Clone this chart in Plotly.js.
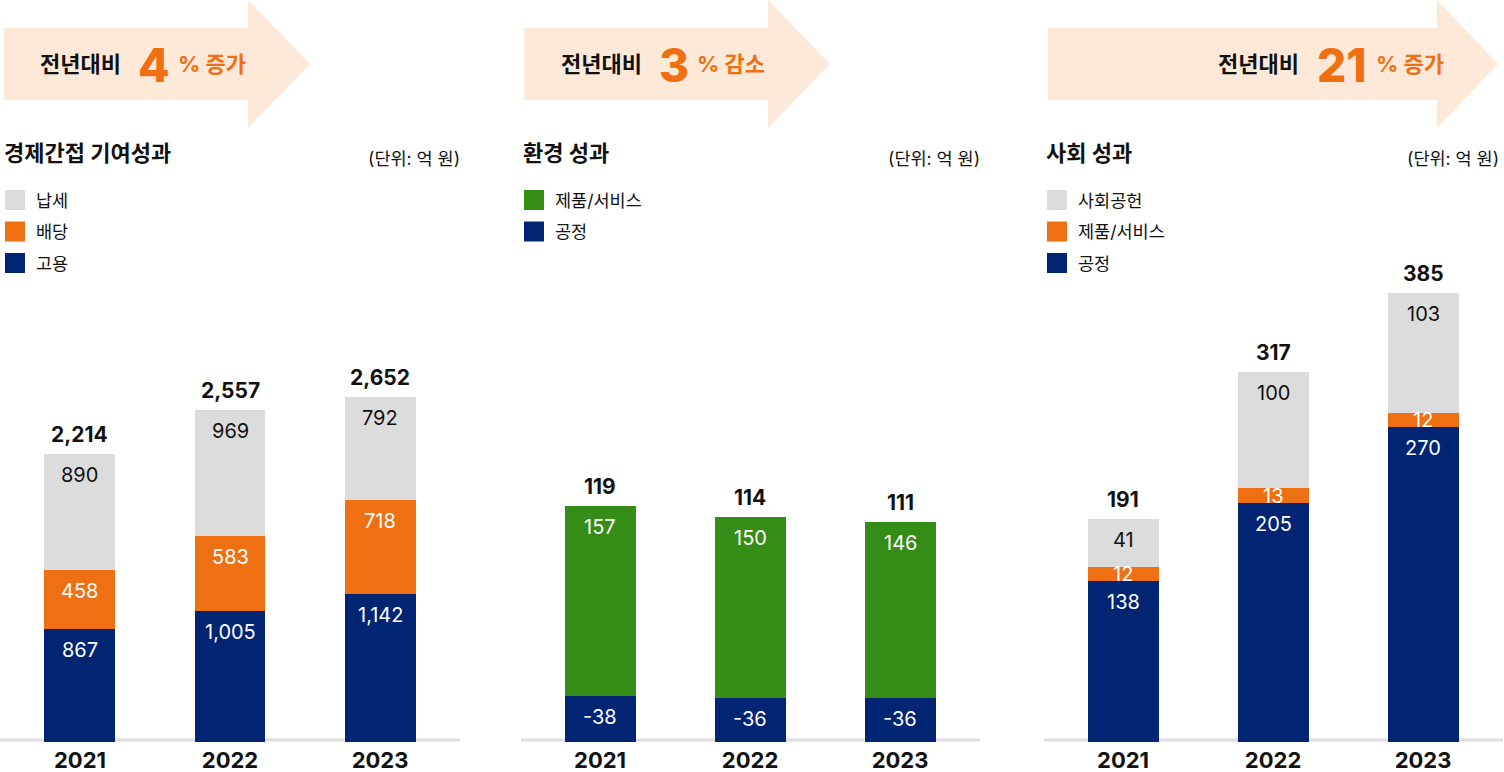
<!DOCTYPE html>
<html><head><meta charset="utf-8">
<script src="https://cdn.plot.ly/plotly-3.0.1.min.js"></script>
<style>html,body{margin:0;padding:0;background:#fff}#chart{width:1504px;height:772px}</style>
</head><body><div id="chart"></div>
<script>
// ---------- DATA ----------
const years = ['2021', '2022', '2023'];

// 경제간접 기여성과
const econEmployment = [867, 1005, 1142];   // 고용
const econDividend = [458, 583, 718];       // 배당
const econTax = [890, 969, 792];            // 납세
const econTotals = [2214, 2557, 2652];

// 환경 성과
const envProcess = [-38, -36, -36];         // 공정
const envProduct = [157, 150, 146];         // 제품/서비스
const envTotals = [119, 114, 111];

// 사회 성과
const socProcess = [138, 205, 270];         // 공정
const socProduct = [12, 13, 12];            // 제품/서비스
const socContrib = [41, 100, 103];          // 사회공헌
const socTotals = [191, 317, 385];

const changeValues = ['4', '3', '21'];
const changeWords = ['증가', '감소', '증가'];
const panelTitles = ['경제간접 기여성과', '환경 성과', '사회 성과'];
const unitLabel = '(단위: 억 원)';

// ---------- STYLE ----------
const W = 1504, H = 772;
const NAVY = '#012572', ORANGE = '#EE7012', GRAY = '#DCDCDC', GREEN = '#358C17';
const ARROW = '#FEE9D9', INK = '#111111';
const FONT = "Inter, 'Noto Sans CJK KR', sans-serif";
const px = x => x / W;
const py = y => 1 - y / H;

const yDom = [py(742), py(290)];
const plotH = (yDom[1] - yDom[0]) * H;
const panels = [
  {xd: [0, 460], xr: [-0.533, 2.533], ymax: 3477,
   series: [{name: '고용', v: econEmployment, c: NAVY, t: '#fff'},
            {name: '배당', v: econDividend, c: ORANGE, t: '#fff'},
            {name: '납세', v: econTax, c: GRAY, t: INK}],
   totals: econTotals, left: 5, right: 462, arrow: [4, 248, 310], tx: [80, 154, 212]},
  {xd: [521, 980], xr: [-0.527, 2.533], ymax: 374,
   series: [{name: '공정', v: envProcess, c: NAVY, t: '#fff'},
            {name: '제품/서비스', v: envProduct, c: GREEN, t: '#fff'}],
   totals: envTotals, left: 524, right: 982, arrow: [524, 768, 830], tx: [601, 674, 731]},
  {xd: [1044, 1503], xr: [-0.527, 2.533], ymax: 388,
   series: [{name: '공정', v: socProcess, c: NAVY, t: '#fff'},
            {name: '제품/서비스', v: socProduct, c: ORANGE, t: '#fff'},
            {name: '사회공헌', v: socContrib, c: GRAY, t: INK}],
   totals: socTotals, left: 1047, right: 1501, arrow: [1048, 1437, 1498], tx: [1258, 1342, 1410]}
];

const fmt = n => n.toLocaleString('en-US');
const traces = [], annotations = [], shapes = [];
const layout = {
  width: W, height: H, margin: {l: 0, r: 0, t: 0, b: 0},
  paper_bgcolor: '#fff', plot_bgcolor: 'rgba(0,0,0,0)',
  barmode: 'stack', showlegend: false, font: {family: FONT, color: INK},
  annotations, shapes
};

panels.forEach((p, pi) => {
  const sfx = pi === 0 ? '' : String(pi + 1);
  const xa = 'x' + sfx, ya = 'y' + sfx;
  layout['xaxis' + sfx] = {
    domain: [px(p.xd[0]), px(p.xd[1])], range: p.xr, type: 'category', anchor: ya,
    showgrid: false, zeroline: false, showline: false, ticks: '',
    tickfont: {family: FONT, size: 22, weight: 700, color: INK}, ticklabelstandoff: 3, fixedrange: true
  };
  layout['yaxis' + sfx] = {
    domain: yDom, range: [0, p.ymax], anchor: xa, showgrid: false, zeroline: false,
    showline: false, showticklabels: false, ticks: '', fixedrange: true
  };
  // baseline
  shapes.push({type: 'line', xref: 'paper', yref: 'paper', layer: 'below',
    x0: px(p.xd[0]), x1: px(p.xd[1]), y0: py(740), y1: py(740), line: {color: '#DEDEDE', width: 3}});

  const k = plotH / p.ymax;           // px per unit
  const base = [0, 0, 0];
  p.series.forEach(s => {
    const h = s.v.map(Math.abs);
    traces.push({type: 'bar', x: years, y: h, xaxis: xa, yaxis: ya, width: 0.473,
      marker: {color: s.c, line: {width: 0}}, hoverinfo: 'skip', name: s.name});
    h.forEach((hv, i) => {
      const top = base[i] + hv;
      annotations.push({xref: xa, yref: ya, x: i, y: top - Math.min(hv / 2, 21 / k),
        xanchor: 'center', yanchor: 'middle', text: fmt(s.v[i]), showarrow: false,
        font: {family: FONT, size: 20, color: s.t}});
      base[i] = top;
    });
  });
  p.totals.forEach((t, i) => {
    annotations.push({xref: xa, yref: ya, x: i, y: base[i], xanchor: 'center', yanchor: 'bottom', yshift: 5,
      text: fmt(t), showarrow: false, font: {family: FONT, size: 21, weight: 700, color: INK}});
  });

  // arrow banner
  const [a0, ab, at] = p.arrow;
  shapes.push({type: 'path', xref: 'paper', yref: 'paper', layer: 'below', fillcolor: ARROW, line: {width: 0},
    path: `M${px(a0)},${py(28)} L${px(ab)},${py(28)} L${px(ab)},${py(0)} L${px(at)},${py(64)} L${px(ab)},${py(128)} L${px(ab)},${py(100)} L${px(a0)},${py(100)} Z`});
  annotations.push({xref: 'paper', yref: 'paper', x: px(p.tx[0]), y: py(64), xanchor: 'center', yanchor: 'middle',
    text: '전년대비', showarrow: false, font: {family: FONT, size: 22, weight: 700, color: INK}});
  annotations.push({xref: 'paper', yref: 'paper', x: px(p.tx[1]), y: py(65), xanchor: 'center', yanchor: 'middle',
    text: changeValues[pi], showarrow: false, font: {family: FONT, size: 46, weight: 800, color: ORANGE}});
  annotations.push({xref: 'paper', yref: 'paper', x: px(p.tx[2]), y: py(64), xanchor: 'center', yanchor: 'middle',
    text: '% ' + changeWords[pi], showarrow: false,
    font: {family: FONT, size: 22, weight: 700, color: ORANGE}});

  // title + unit
  annotations.push({xref: 'paper', yref: 'paper', x: px(p.left - 3), y: py(153), xanchor: 'left', yanchor: 'middle',
    text: panelTitles[pi], showarrow: false, font: {family: FONT, size: 22, weight: 700, color: INK}});
  annotations.push({xref: 'paper', yref: 'paper', x: px(p.right), y: py(158), xanchor: 'right', yanchor: 'middle',
    text: unitLabel, showarrow: false, font: {family: FONT, size: 17.5, color: INK}});

  // legend (top to bottom = reversed stack order)
  p.series.slice().reverse().forEach((s, j) => {
    const cy = 200 + j * 31.5;
    shapes.push({type: 'rect', xref: 'paper', yref: 'paper', x0: px(p.left), x1: px(p.left + 20),
      y0: py(cy + 10), y1: py(cy - 10), fillcolor: s.c, line: {width: 0}});
    annotations.push({xref: 'paper', yref: 'paper', x: px(p.left + 29), y: py(cy), xanchor: 'left', yanchor: 'middle',
      text: s.name, showarrow: false, font: {family: FONT, size: 17.5, color: INK}});
  });
});

Plotly.newPlot('chart', traces, layout, {staticPlot: true, displayModeBar: false});
</script></body></html>
